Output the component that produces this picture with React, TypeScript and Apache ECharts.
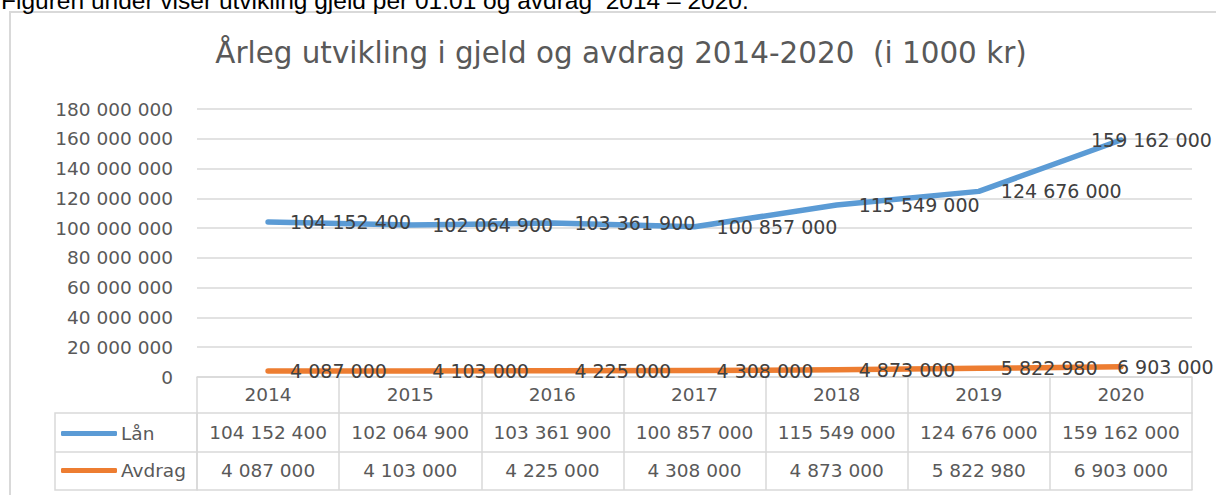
import React, { useEffect, useRef } from "react";
import * as echarts from "echarts";

const years = ["2014", "2015", "2016", "2017", "2018", "2019", "2020"];
const lanValues = [104152400, 102064900, 103361900, 100857000, 115549000, 124676000, 159162000];
const avdragValues = [4087000, 4103000, 4225000, 4308000, 4873000, 5822980, 6903000];
const yTicks = { min: 0, max: 180000000, interval: 20000000 };
const seriesNames = ["Lån", "Avdrag"];
const titleText = "Årleg utvikling i gjeld og avdrag 2014-2020  (i 1000 kr)";
const introText = "Figuren under viser utvikling gjeld per 01.01 og avdrag  2014 – 2020.";

const fmt = (v: number) => String(v).replace(/\B(?=(\d{3})+(?!\d))/g, " ");

const FONT = "'DejaVu Sans', sans-serif";
const GRID = "#d9d9d9";
const AXIS_TEXT = "#595959";
const LABEL_TEXT = "#404040";
const BLUE = "#5B9BD5";
const ORANGE = "#ED7D31";
const FS = 18.5;

export default function App() {
  const ref = useRef<HTMLDivElement>(null);
  useEffect(() => {
    if (!ref.current) return;
    const chart = echarts.init(ref.current, undefined, { renderer: "svg" });
    const last = years.length - 1;
    const mkData = (vals: number[], shift: number) =>
      vals.map((v, i) => (i === last ? { value: v, label: { offset: [shift, 0] } } : v));

    const tableAxis = (data: string[], offset: number, tickLen: number, margin: number, showLabel = true, showTick = true) => ({
      type: "category",
      data,
      position: "bottom",
      offset,
      boundaryGap: true,
      axisLine: { show: true, lineStyle: { color: GRID, width: 1.5 } },
      axisTick: { show: showTick, length: tickLen, interval: 0, lineStyle: { color: GRID, width: 1.5 } },
      axisLabel: { show: showLabel, interval: 0, margin, fontSize: FS, color: AXIS_TEXT, fontFamily: FONT },
      splitLine: { show: false },
    });

    const labelStyle = {
      show: true,
      position: "right",
      distance: 22,
      fontSize: 19,
      color: LABEL_TEXT,
      fontFamily: FONT,
      formatter: (p: any) => fmt(p.value),
    };

    chart.setOption({
      animation: false,
      backgroundColor: "#ffffff",
      title: {
        text: titleText,
        left: 616,
        top: 33,
        textAlign: "center",
        textStyle: { fontSize: 29.4, fontWeight: "normal", color: AXIS_TEXT, fontFamily: FONT },
      },
      graphic: [
        {
          type: "text",
          left: 1,
          top: -12,
          style: { text: introText, font: "24.5px 'Liberation Sans', Arial, sans-serif", fill: "#000000" },
          z: 10,
        },
        {
          type: "rect",
          shape: { x: 10, y: 12, width: 1240, height: 520 },
          style: { fill: "none", stroke: GRID, lineWidth: 2 },
          z: -1,
        },
        {
          type: "rect",
          shape: { x: 55, y: 413, width: 142, height: 77 },
          style: { fill: "none", stroke: GRID, lineWidth: 1.5 },
        },
        {
          type: "line",
          shape: { x1: 55, y1: 452, x2: 197, y2: 452 },
          style: { stroke: GRID, lineWidth: 1.5 },
        },
      ],
      legend: {
        orient: "vertical",
        left: 61,
        top: 424,
        padding: 0,
        itemGap: 18,
        itemWidth: 56,
        itemHeight: 5,
        icon: "roundRect",
        data: seriesNames,
        textStyle: { fontSize: FS, color: AXIS_TEXT, fontFamily: FONT, padding: [0, 0, 0, -1] },
      },
      grid: { left: 197, right: 24, top: 109, bottom: 118, containLabel: false },
      xAxis: [
        tableAxis(years, 0, 36, 8),
        tableAxis(lanValues.map(fmt), 36, 39, 10),
        tableAxis(avdragValues.map(fmt), 75, 38, 9),
        tableAxis(years.map(() => ""), 113, 0, 0, false, false),
      ],
      yAxis: {
        type: "value",
        min: yTicks.min,
        max: yTicks.max,
        interval: yTicks.interval,
        axisLine: { show: false },
        axisTick: { show: false },
        splitLine: { lineStyle: { color: GRID, width: 1.5 } },
        axisLabel: { margin: 24, fontSize: FS, color: AXIS_TEXT, fontFamily: FONT, formatter: (v: number) => fmt(v) },
      },
      series: [
        {
          name: seriesNames[0],
          type: "line",
          data: mkData(lanValues, -52),
          color: BLUE,
          symbol: "circle",
          symbolSize: 0.1,
          lineStyle: { width: 5.5, color: BLUE, cap: "round", join: "round" },
          label: labelStyle,
        },
        {
          name: seriesNames[1],
          type: "line",
          data: mkData(avdragValues, -26),
          color: ORANGE,
          symbol: "circle",
          symbolSize: 0.1,
          lineStyle: { width: 5.5, color: ORANGE, cap: "round", join: "round" },
          label: labelStyle,
        },
      ],
    });
    return () => chart.dispose();
  }, []);
  return <div ref={ref} style={{ position: "absolute", left: 0, top: 0, width: 1216, height: 495 }} />;
}
